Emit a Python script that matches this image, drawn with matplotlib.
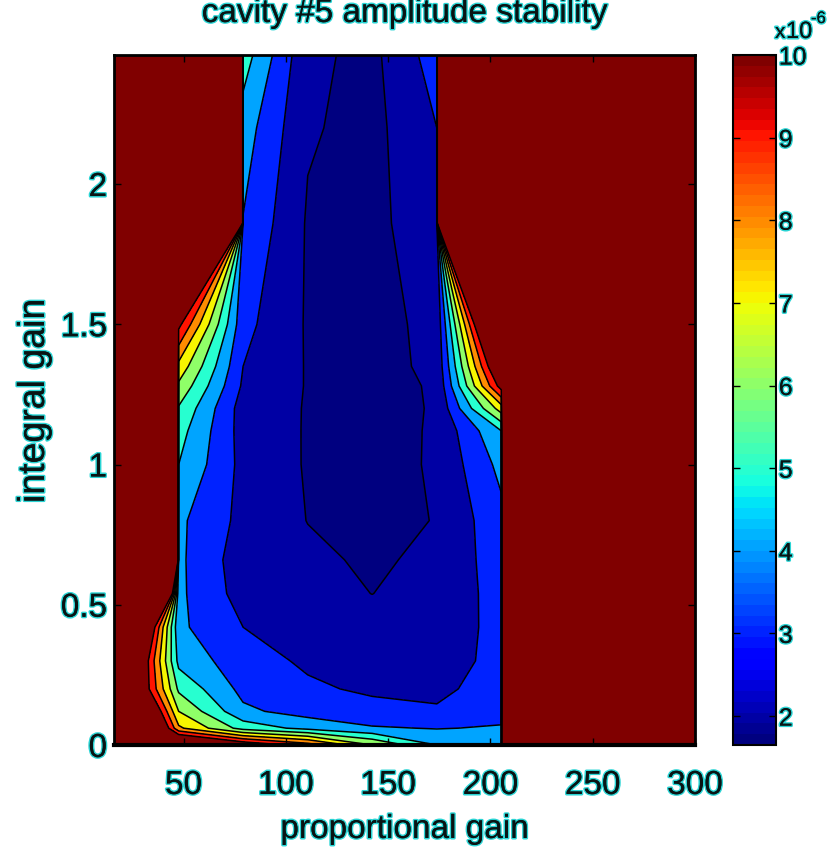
import numpy as np
import matplotlib
matplotlib.use("Agg")
import matplotlib.pyplot as plt
from matplotlib import cm
from matplotlib import colors as mcolors
from matplotlib import patheffects as pe

plt.rcParams["font.family"] = ["Liberation Sans", "DejaVu Sans"]

# proportional gain (columns) and integral gain (rows) of the scan
kp = [16.0, 47.6, 79.1, 110.7, 142.2, 173.8, 205.3, 236.9, 268.4, 300.0]
ki = [0.0, 0.06, 0.12, 0.2, 0.3, 0.42, 0.54, 0.66, 0.8, 1.0,
      1.12, 1.2, 1.28, 1.35, 1.5, 1.86, 2.2, 2.46]

# off-scale amplitude jitter (loop unstable), in units of 1e-6
U = 1000.0

# rms amplitude jitter x 1e-6, one list per integral gain row
amp_000 = [U, 13.0, 11.0, 9.5, 7.0, 5.0, 4.5, U, U, U]
amp_006 = [20.0, 8.2, 5.6, 4.7, 4.1, 3.95, 4.1, U, U, U]
amp_012 = [18.0, 7.0, 4.2, 3.6, 3.3, 3.1, 3.6, U, U, U]
amp_020 = [15.0, 5.8, 3.7, 3.15, 2.85, 2.8, 3.4, U, U, U]
amp_030 = [16.0, 4.7, 3.4, 2.85, 2.6, 2.55, 3.3, U, U, U]
amp_042 = [20.0, 4.2, 3.0, 2.6, 2.4, 2.35, 3.35, U, U, U]
amp_054 = [64.0, 4.2, 2.59, 2.35, 1.99, 2.4, 3.33, U, U, U]
amp_066 = [U, 4.2, 2.45, 2.2, 1.85, 2.22, 3.5, U, U, U]
amp_080 = [U, 4.2, 2.71, 1.98, 1.7, 2.04, 3.7, U, U, U]
amp_100 = [U, 5.0, 2.7, 1.92, 1.65, 2.11, 4.3, U, U, U]
amp_112 = [U, 5.4, 2.6, 1.93, 1.66, 2.1, 5.0, U, U, U]
amp_120 = [U, 5.9, 2.55, 1.94, 1.67, 2.08, 7.5, U, U, U]
amp_128 = [U, 6.8, 2.85, 1.94, 1.68, 2.1, 10.5, U, U, U]
amp_135 = [U, 7.7, 3.0, 1.93, 1.69, 2.2, 12.0, U, U, U]
amp_150 = [U, 10.3, 3.3, 1.9, 1.7, 2.25, 15.6, U, U, U]
amp_186 = [U, U, 3.95, 1.9, 1.66, 2.8, U, U, U, U]
amp_220 = [U, U, 4.5, 2.1, 1.7, 3.0, U, U, U, U]
amp_246 = [U, U, 5.5, 2.2, 1.75, 3.5, U, U, U, U]

Z = np.array([amp_000, amp_006, amp_012, amp_020, amp_030, amp_042,
              amp_054, amp_066, amp_080, amp_100, amp_112, amp_120,
              amp_128, amp_135, amp_150, amp_186, amp_220, amp_246])
X, Y = np.meshgrid(kp, ki)

zmin = Z.min()
zmax_scale = 10.0
line_levels = list(range(2, 11))
fill_levels = [zmin] + line_levels + [U + 1]

# matlab-style fill: each band gets the colour of its lower level
cmap = plt.get_cmap("jet", 64)
norm = mcolors.Normalize(vmin=zmin, vmax=zmax_scale)
band_colors = [cmap(norm(lv)) for lv in fill_levels[:-1]]

fig = plt.figure(figsize=(8.3, 8.5), dpi=100)
ax = fig.add_axes([114 / 830, 1 - 745 / 850, 581 / 830, 690 / 850])
cax = fig.add_axes([733 / 830, 1 - 745 / 850, 43 / 830, 690 / 850])

halo = [pe.withStroke(linewidth=2.2, foreground="#2ad4d4"), pe.Normal()]
txt_color = "#0a1414"

ax.contourf(X, Y, Z, levels=fill_levels, colors=band_colors)
ax.contour(X, Y, Z, levels=line_levels, colors="k", linewidths=1.1)

ax.set_xlim(16, 300)
ax.set_ylim(0, 2.46)
ax.set_xticks([50, 100, 150, 200, 250, 300])
ax.set_yticks([0, 0.5, 1, 1.5, 2])
ax.set_yticklabels(["0", "0.5", "1", "1.5", "2"])
ax.tick_params(direction="in", length=5, width=1, top=True, right=True,
               labelsize=24, colors="k", labelcolor=txt_color)
ax.tick_params(axis="x", pad=18)
ax.tick_params(axis="y", pad=5)
for lab in ax.get_xticklabels() + ax.get_yticklabels():
    lab.set_path_effects(halo)
for side, sp in ax.spines.items():
    sp.set_linewidth(3.0 if side == "bottom" else 2.0)
    sp.set_color("k")

sm = cm.ScalarMappable(norm=norm, cmap=cmap)
cb = fig.colorbar(sm, cax=cax)
cb.set_ticks(line_levels)
cb.outline.set_linewidth(1.5)
cax.tick_params(direction="in", length=5, width=1, left=True, right=True,
                labelsize=18, pad=2, labelcolor=txt_color)
for lab in cax.get_yticklabels():
    lab.set_path_effects(halo)

# colorbar scale factor, drawn as x 10^-6
fig.text(775 / 830, 1 - 38 / 850, "x", fontsize=15, color=txt_color,
         va="baseline", ha="left", path_effects=halo)
fig.text(786 / 830, 1 - 38 / 850, "10", fontsize=17, color=txt_color,
         va="baseline", ha="left", path_effects=halo)
fig.text(811 / 830, 1 - 23 / 850, "-6", fontsize=12, color=txt_color,
         va="baseline", ha="left", path_effects=halo)

fig.text(404.5 / 830, 1 - 22 / 850, "cavity #5 amplitude stability",
         fontsize=24, color=txt_color, ha="center", va="baseline",
         path_effects=halo)
fig.text(404.5 / 830, 1 - 838 / 850, "proportional gain", fontsize=24,
         color=txt_color, ha="center", va="baseline", path_effects=halo)
fig.text(34 / 830, 1 - 401 / 850, "integral gain", fontsize=27,
         color=txt_color, ha="center", va="center", rotation=90,
         path_effects=halo)

fig.savefig("out.png", dpi=100)
